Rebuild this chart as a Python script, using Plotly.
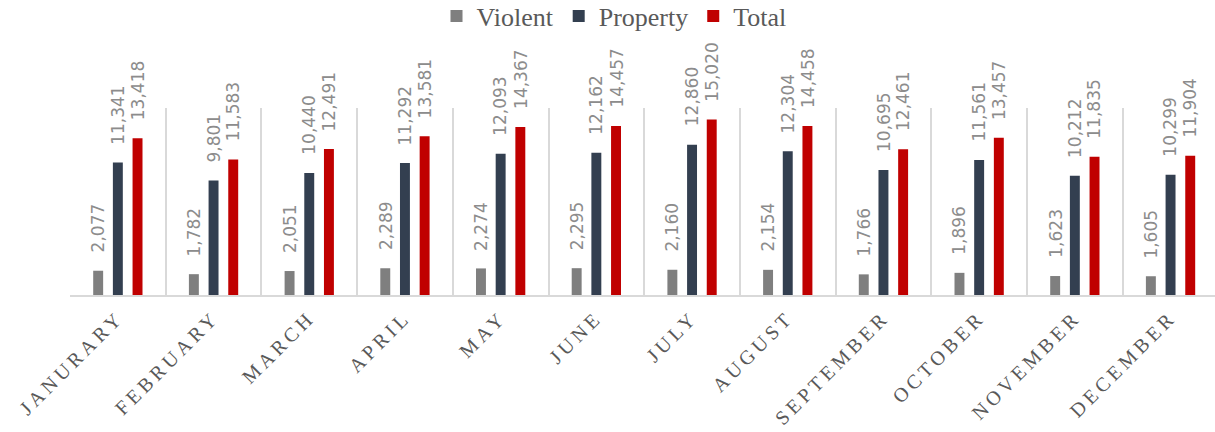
import plotly.graph_objects as go

months = ["JANURARY", "FEBRUARY", "MARCH", "APRIL", "MAY", "JUNE", "JULY",
          "AUGUST", "SEPTEMBER", "OCTOBER", "NOVEMBER", "DECEMBER"]
violent = [2077, 1782, 2051, 2289, 2274, 2295, 2160, 2154, 1766, 1896, 1623, 1605]
property_ = [11341, 9801, 10440, 11292, 12093, 12162, 12860, 12304, 10695, 11561, 10212, 10299]
total = [13418, 11583, 12491, 13581, 14367, 14457, 15020, 14458, 12461, 13457, 11835, 11904]

series = [("Violent", violent, "#7f7f7f"),
          ("Property", property_, "#333f50"),
          ("Total", total, "#c00000")]

fig = go.Figure()
for name, vals, col in series:
    fig.add_trace(go.Bar(x=months, y=vals, name=name, marker_color=col,
                         marker_line_width=0))

W, H = 1215, 432
ml, mr, mt, mb = 70, 0, 108, 137
cat_px = 95.7
slot = 0.2057 * cat_px
offsets = [-slot, 0, slot]

for (name, vals, col), off in zip(series, offsets):
    for m, v in zip(months, vals):
        fig.add_annotation(x=m, y=v, xref="x", yref="y", text=f"{v:,}",
                           showarrow=False, textangle=-90, xanchor="center",
                           yanchor="bottom", xshift=off, yshift=16,
                           font=dict(family="DejaVu Sans", size=17, color="#8c8c8c"))

plot_w = W - ml - mr
plot_h = H - mt - mb
x_end = -0.5 + plot_w / cat_px

fig.update_layout(
    width=W, height=H,
    margin=dict(l=ml, r=mr, t=mt, b=mb, autoexpand=False),
    plot_bgcolor="white", paper_bgcolor="white",
    barmode="group", bargap=0.383, bargroupgap=0.495,
    showlegend=True,
    legend=dict(orientation="h", x=(614 - ml) / plot_w, xanchor="center",
                y=1 + (mt - 16) / plot_h, yref="paper", yanchor="middle", itemwidth=30,
                font=dict(family="Liberation Serif", size=26, color="#595959"),
                traceorder="normal"),
    xaxis=dict(range=[-0.5, x_end], tickson="boundaries", showgrid=True,
               gridcolor="#d9d9d9", gridwidth=2, showline=True, linecolor="#d9d9d9",
               linewidth=2, ticks="", tickangle=-45,
               tickfont=dict(family="Liberation Serif", size=20, color="#595959"),
               ticklabelstandoff=1),
    yaxis=dict(range=[0, 16000], visible=False, showgrid=False, zeroline=False),
)
fig.update_xaxes(
    tickmode="array", tickvals=months,
    ticktext=[f'<span style="letter-spacing:4px">{m}</span>' for m in months])

fig.write_html("out.html", config={"displayModeBar": False},
               post_script="document.body.style.margin='0px';document.body.style.overflow='hidden';")
